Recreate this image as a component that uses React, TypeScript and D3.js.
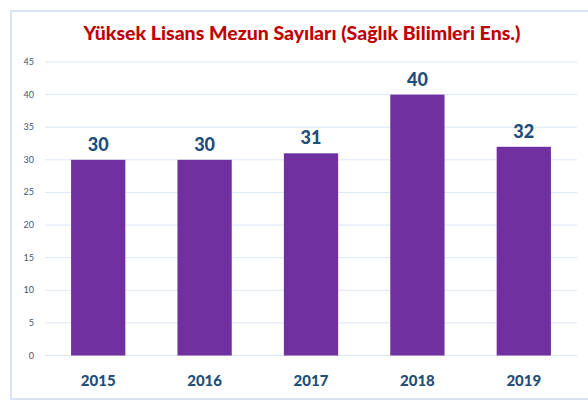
import React from "react";
import * as d3 from "d3";

const categories = ["2015", "2016", "2017", "2018", "2019"];
const values = [30, 30, 31, 40, 32];
const yTicks = [0, 5, 10, 15, 20, 25, 30, 35, 40, 45];
const title = "Yüksek Lisans Mezun Sayıları (Sağlık Bilimleri Ens.)";

export default function App() {
  const W = 588, H = 401;
  const x = d3.scaleBand<string>().domain(categories).range([45, 577]).paddingInner(0.49).paddingOuter(0.245);
  const y = d3.scaleLinear().domain([0, 45]).range([355.5, 62]);
  const font = "Lato, 'Open Sans', sans-serif";
  return (
    <svg width={W} height={H} style={{ position: "absolute", left: 0, top: 0, background: "#fff" }}>
      <rect x={11} y={11} width={W} height={388} fill="#fff" stroke="#dae3f3" strokeWidth={2} />
      <text x={302} y={40} textAnchor="middle" fontFamily={font} fontWeight="900" fontSize={19.5} fill="#c00000">{title}</text>
      {yTicks.map(t => (
        <g key={t}>
          <line x1={45} x2={577} y1={y(t)} y2={y(t)} stroke="#dce6f4" strokeWidth={1} />
          <text x={34} y={y(t) + 3} textAnchor="end" fontFamily={font} fontSize={9} fill="#44546a">{t}</text>
        </g>
      ))}
      {categories.map((c, i) => (
        <g key={c}>
          <rect x={x(c)} y={y(values[i])} width={x.bandwidth()} height={y(0) - y(values[i])} fill="#7030a0" />
          <text x={x(c)! + x.bandwidth() / 2} y={y(values[i]) - 9} textAnchor="middle" fontFamily={font} fontWeight="900" fontSize={18} fill="#1f4e79">{values[i]}</text>
          <text x={x(c)! + x.bandwidth() / 2} y={386} textAnchor="middle" fontFamily={font} fontWeight="900" fontSize={15} fill="#1f4e79">{c}</text>
        </g>
      ))}
    </svg>
  );
}
